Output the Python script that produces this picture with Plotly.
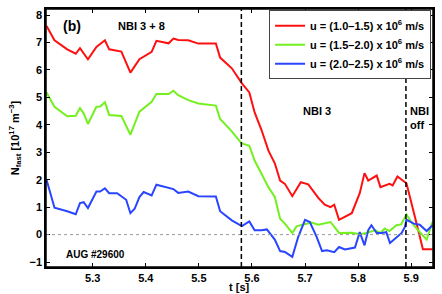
import plotly.graph_objects as go

# ---- data ----
t_red = [5.213, 5.228, 5.252, 5.268, 5.276, 5.291, 5.307, 5.323, 5.331, 5.354, 5.371, 5.388,
         5.411, 5.420, 5.443, 5.452, 5.461, 5.480, 5.499, 5.532, 5.540, 5.562, 5.581, 5.595,
         5.605, 5.618, 5.631, 5.643, 5.653, 5.662, 5.676, 5.692, 5.706, 5.725, 5.737, 5.748,
         5.755, 5.764, 5.788, 5.803, 5.812, 5.819, 5.835, 5.842, 5.859, 5.865, 5.874, 5.883,
         5.891, 5.907, 5.922, 5.940]
n_red = [7.60, 7.08, 6.75, 6.59, 6.79, 6.39, 6.84, 7.08, 6.75, 6.67, 5.90, 6.39,
         6.66, 7.06, 6.97, 7.14, 7.09, 7.08, 6.96, 6.96, 6.45, 6.06, 5.51, 5.18,
         4.45, 3.81, 3.06, 2.60, 1.97, 1.85, 1.40, 1.91, 1.83, 1.34, 1.09, 1.00,
         1.09, 0.54, 0.78, 1.51, 2.24, 1.97, 2.15, 1.73, 1.85, 1.79, 2.12, 1.97,
         1.87, 0.64, -0.53, -0.53]

t_green = [5.213, 5.228, 5.252, 5.268, 5.276, 5.283, 5.291, 5.307, 5.314, 5.323, 5.331, 5.354,
           5.371, 5.388, 5.411, 5.420, 5.443, 5.452, 5.461, 5.480, 5.499, 5.532, 5.540, 5.562,
           5.580, 5.595, 5.605, 5.618, 5.631, 5.643, 5.653, 5.662, 5.676, 5.684, 5.696, 5.712,
           5.725, 5.748, 5.764, 5.788, 5.803, 5.815, 5.832, 5.842, 5.850, 5.859, 5.872, 5.881,
           5.891, 5.900, 5.913, 5.929, 5.940]
n_green = [5.18, 4.66, 4.31, 4.33, 4.61, 4.42, 4.03, 4.66, 4.67, 4.82, 4.36, 4.32,
           3.64, 4.48, 4.84, 5.12, 5.12, 5.24, 5.08, 4.90, 4.78, 4.70, 4.21, 3.76,
           3.33, 3.24, 2.70, 2.19, 1.73, 1.37, 0.58, 0.40, 0.06, 0.30, 0.36, 0.44,
           0.36, 0.46, 0.06, 0.07, 0.01, 0.06, 0.16, 0.06, 0.22, 0.13, 0.34, 0.37,
           0.73, 0.46, 0.16, -0.18, 0.46]

t_blue = [5.213, 5.228, 5.252, 5.268, 5.276, 5.283, 5.291, 5.307, 5.314, 5.323, 5.331, 5.346,
          5.363, 5.371, 5.379, 5.388, 5.396, 5.411, 5.420, 5.443, 5.452, 5.461, 5.480, 5.499,
          5.532, 5.540, 5.562, 5.581, 5.595, 5.605, 5.618, 5.628, 5.643, 5.653, 5.662, 5.676,
          5.687, 5.700, 5.709, 5.722, 5.732, 5.741, 5.755, 5.764, 5.775, 5.794, 5.803, 5.812,
          5.819, 5.825, 5.835, 5.844, 5.853, 5.860, 5.872, 5.882, 5.888, 5.891, 5.905, 5.916,
          5.929, 5.940]
n_blue = [2.00, 0.98, 0.85, 0.74, 1.15, 1.18, 0.97, 1.57, 1.57, 1.69, 1.51, 1.51,
          1.27, 0.78, 0.94, 1.37, 1.55, 1.43, 1.82, 1.71, 1.66, 1.52, 1.57, 1.40,
          1.39, 0.85, 0.52, 0.31, 0.48, 0.16, 0.16, 0.19, -0.18, -0.60, -0.63, -0.81,
          -0.09, 0.54, 0.46, -0.09, -0.60, -0.57, -0.64, -0.45, -0.54, -0.47, 0.09, -0.39,
          0.16, 0.34, 0.06, 0.06, 0.09, -0.31, -0.09, 0.06, 0.28, 0.54, 0.40, 0.36,
          0.13, 0.34]

names = ["<b>u = (1.0\u20131.5) x 10<sup>6</sup> m/s</b>",
         "<b>u = (1.5\u20132.0) x 10<sup>6</sup> m/s</b>",
         "<b>u = (2.0\u20132.5) x 10<sup>6</sup> m/s</b>"]
colors = ["#ff1010", "#74f020", "#2a45ff"]

phase_lines = [5.58, 5.89]
x_ticks = [5.3, 5.4, 5.5, 5.6, 5.7, 5.8, 5.9]
y_ticks = [-1, 0, 1, 2, 3, 4, 5, 6, 7, 8]

FONT = "Liberation Sans, Arial, sans-serif"

fig = go.Figure()
for t, n, nm, c in zip([t_red, t_green, t_blue], [n_red, n_green, n_blue], names, colors):
    fig.add_trace(go.Scatter(x=t, y=n, mode="lines", name=nm,
                             line=dict(color=c, width=2)))

fig.add_hline(y=0, line=dict(color="#999999", width=1, dash="dot"))
for xv in phase_lines:
    fig.add_vline(x=xv, line=dict(color="black", width=1.5, dash="5px,3px"))

# frame around the plot area
fig.add_shape(type="rect", xref="paper", yref="paper", x0=0, x1=1, y0=0, y1=1,
              line=dict(color="black", width=1.5), layer="above")

ann_font = dict(family=FONT, size=11, color="black")
fig.add_annotation(x=5.261, y=7.6, text="<b>(b)</b>", showarrow=False,
                   font=dict(family=FONT, size=14, color="black"))
fig.add_annotation(x=5.392, y=7.6, text="<b>NBI 3 + 8</b>", showarrow=False, font=ann_font)
fig.add_annotation(x=5.722, y=4.5, text="<b>NBI 3</b>", showarrow=False, font=ann_font)
fig.add_annotation(x=5.893, y=4.24, text="<b>NBI<br>off</b>", showarrow=False, font=ann_font,
                   align="left", xanchor="left")
fig.add_annotation(x=5.306, y=-0.72, text="<b>AUG #29600</b>", showarrow=False,
                   font=dict(family=FONT, size=10, color="black"))
# x-axis title
fig.add_annotation(x=0.5, y=0, xref="paper", yref="paper", yanchor="top", yshift=-12,
                   text="<b>t [s]</b>", showarrow=False,
                   font=dict(family=FONT, size=11, color="black"))

axis_common = dict(showgrid=False, zeroline=False, showline=True, linecolor="black",
                   linewidth=1.5, mirror="ticks", ticks="inside", ticklen=4,
                   tickcolor="black", tickwidth=1,
                   tickfont=dict(family=FONT, size=11, color="black"))

fig.update_layout(
    width=442, height=294,
    margin=dict(l=46, r=7, t=8, b=27),
    paper_bgcolor="white", plot_bgcolor="white",
    font=dict(family=FONT, color="black"),
    showlegend=True,
    legend=dict(x=0.995, y=0.995, xanchor="right", yanchor="top",
                bgcolor="white", bordercolor="#444444", borderwidth=1,
                font=dict(family=FONT, size=11, color="black"),
                tracegroupgap=0, itemwidth=30),
    xaxis=dict(range=[5.212, 5.941], tickvals=x_ticks,
               ticktext=["<b>%.1f</b>" % v for v in x_ticks],
               **axis_common),
    yaxis=dict(range=[-1.18, 8.22], tickvals=y_ticks,
               ticktext=["<b>%s</b>" % ("\u22121" if v == -1 else str(v)) for v in y_ticks],
               title=dict(text="<b>N<sub>fast</sub> [10<sup>17</sup> m<sup>\u22123</sup>]</b>",
                          font=dict(family=FONT, size=11), standoff=8),
               **axis_common),
)

fig.write_html("out.html", config={"displayModeBar": False},
               post_script="document.body.style.margin='0';document.body.style.overflow='hidden';")
